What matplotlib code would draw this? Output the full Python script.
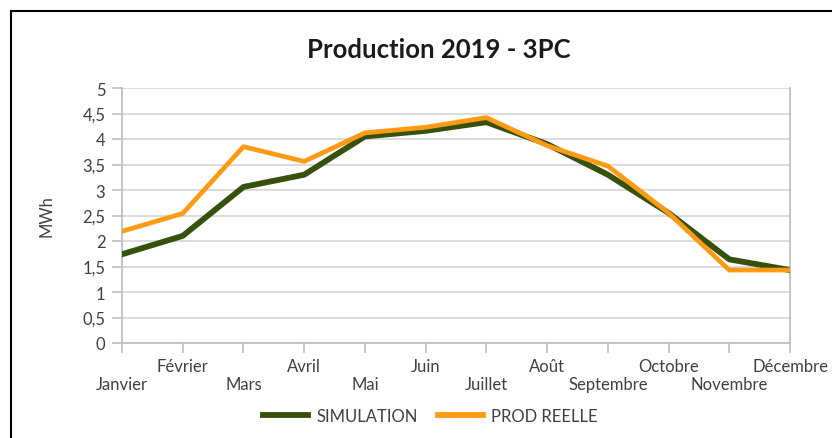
import matplotlib
matplotlib.use("Agg")
import matplotlib.pyplot as plt
from matplotlib.lines import Line2D
from matplotlib.transforms import ScaledTranslation

plt.rcParams['font.family'] = ['Lato', 'DejaVu Sans']

months = ["Janvier", "Février", "Mars", "Avril", "Mai", "Juin", "Juillet",
          "Août", "Septembre", "Octobre", "Novembre", "Décembre"]
simulation = [1.74, 2.10, 3.06, 3.30, 4.05, 4.16, 4.33, 3.90, 3.30, 2.55, 1.64, 1.43]
prod_reelle = [2.19, 2.54, 3.85, 3.56, 4.12, 4.23, 4.42, 3.87, 3.47, 2.55, 1.43, 1.43]
yticks = [0, 0.5, 1, 1.5, 2, 2.5, 3, 3.5, 4, 4.5, 5]

FS = 12
TXT = '#404040'
fig = plt.figure(figsize=(8.32, 4.39), dpi=100)
ax = fig.add_axes([122/832, 1-344/439, (790-122)/832, (344-89)/439])

x = list(range(len(months)))
ax.plot(x, simulation, color='#37500c', lw=4.2, solid_joinstyle='round', zorder=3, label='SIMULATION')
ax.plot(x, prod_reelle, color='#FF9A14', lw=3.4, solid_joinstyle='round', zorder=4, label='PROD REELLE')

ax.set_xlim(0, 11)
ax.set_ylim(0, 5)
ax.set_yticks(yticks)
ax.set_yticklabels([("%g" % v).replace('.', ',') for v in yticks], fontsize=FS, color=TXT)
ax.set_xticks(x)
ax.set_xticklabels([''] * len(months))
for i, m in enumerate(months):
    dy = -23 if i % 2 == 1 else -41
    tr = ax.get_xaxis_transform() + ScaledTranslation(0, dy / 100, fig.dpi_scale_trans)
    ax.text(i, 0, m, transform=tr, ha='center', va='center', fontsize=FS, color=TXT)
ax.tick_params(axis='x', length=7, width=1.2, color='#bfbfbf')
ax.tick_params(axis='y', length=7, width=1.2, color='#bfbfbf', pad=5)
ax.grid(axis='y', color='#d9d9d9', lw=1.3, zorder=0)
for s in ['left', 'bottom', 'right']:
    ax.spines[s].set_color('#bfbfbf')
    ax.spines[s].set_linewidth(1.3)
ax.spines['top'].set_visible(False)
ax.set_ylabel('MWh', fontsize=FS, color=TXT, labelpad=20)

fig.text(0.528, 1-50/439, 'Production 2019 - 3PC', ha='center', va='center',
         fontsize=18.5, fontweight='bold', color='#1a1a1a')

handles = [Line2D([], [], color='#37500c', lw=4.2), Line2D([], [], color='#FF9A14', lw=4.2)]
fig.legend(handles, ['SIMULATION', 'PROD REELLE'], loc='center', bbox_to_anchor=(0.517, 1-417/439),
           ncol=2, frameon=False, fontsize=FS, handlelength=2.7, columnspacing=1.2, handletextpad=0.5,
           labelcolor=TXT)

# outer chart border (left and top)
fig.add_artist(Line2D([11/832, 11/832], [0, 1-12/439], transform=fig.transFigure, color='black', lw=1.5))
fig.add_artist(Line2D([11/832, 1], [1-12/439, 1-12/439], transform=fig.transFigure, color='black', lw=1.5))

fig.savefig('out.png', dpi=100)
